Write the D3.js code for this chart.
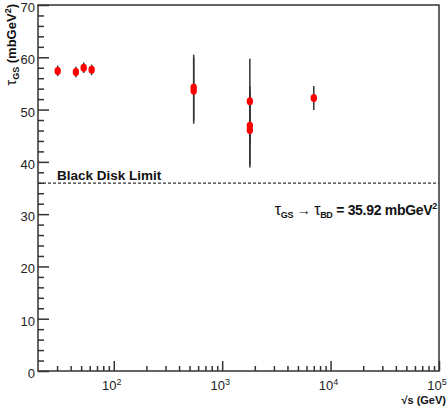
<!DOCTYPE html>
<html>
<head>
<meta charset="utf-8">
<script src="https://cdn.jsdelivr.net/npm/d3@7"></script>
<style>
  body { margin: 0; background: #fff; }
  text { font-family: "Liberation Sans", Arial, sans-serif; }
</style>
</head>
<body>
<div id="chart"></div>
<script>
// sqrt(s) in GeV, tau_GS in mb GeV^2, symmetric error
const energies = [30.4, 44.7, 52.8, 62.5, 546, 546, 1800, 1800, 1800, 7000];
const tauGS    = [57.4, 57.2, 58.0, 57.6, 54.2, 53.6, 51.6, 46.9, 46.1, 52.2];
const tauErr   = [1.0, 1.0, 1.0, 1.0, 6.3, 6.3, 8.1, 7.5, 7.2, 2.3];
const yMajor = [0, 10, 20, 30, 40, 50, 60, 70];
const xDecades = [2, 3, 4, 5];
const blackDisk = 35.92;

const width = 447, height = 409;
const svg = d3.select('#chart').append('svg')
    .attr('width', width)
    .attr('height', height);

const x = d3.scaleLog().domain([20, 1e5]).range([38, 439]);
const y = d3.scaleLinear().domain([0, 70]).range([371, 5]);
const axisColor = '#333';

// minor y ticks every 2
const yMinor = d3.range(0, 70.1, 2).filter(v => v % 10 !== 0);
svg.append('g')
    .attr('transform', `translate(${x.range()[0]},0)`)
    .call(d3.axisLeft(y).tickValues(yMinor).tickSize(-6).tickFormat(''))
    .call(g => g.select('.domain').remove())
    .selectAll('line').attr('stroke', axisColor).attr('stroke-width', 1.5);

svg.append('g')
    .attr('transform', `translate(${x.range()[0]},0)`)
    .call(d3.axisLeft(y).tickValues(yMajor).tickSize(-11).tickPadding(3).tickFormat(d3.format('d')))
    .call(g => g.select('.domain').remove())
    .call(g => g.selectAll('line').attr('stroke', axisColor).attr('stroke-width', 1.5))
    .call(g => g.selectAll('text').attr('font-size', 13).attr('fill', '#222')
        .attr('dy', '0.5em'));

// x minor ticks 2..9 per decade
const xMinor = [];
[1, 2, 3, 4].forEach(d => {
  for (let k = 2; k <= 9; k++) {
    const v = k * Math.pow(10, d);
    if (v > 20 && v < 1e5) xMinor.push(v);
  }
});
svg.append('g')
    .attr('transform', `translate(0,${y.range()[0]})`)
    .call(d3.axisBottom(x).tickValues(xMinor).tickSize(-5).tickFormat(''))
    .call(g => g.select('.domain').remove())
    .selectAll('line').attr('stroke', axisColor).attr('stroke-width', 1.5);

const xMajorVals = xDecades.map(d => Math.pow(10, d));
svg.append('g')
    .attr('transform', `translate(0,${y.range()[0]})`)
    .call(d3.axisBottom(x).tickValues(xMajorVals).tickSize(-10).tickFormat(''))
    .call(g => g.select('.domain').remove())
    .selectAll('line').attr('stroke', axisColor).attr('stroke-width', 1.5);

// x tick labels 10^n
const xl = svg.append('g').selectAll('text')
    .data(xDecades)
    .enter().append('text')
    .attr('x', d => x(Math.pow(10, d)) - 2)
    .attr('y', 390)
    .attr('text-anchor', 'middle')
    .attr('font-size', 13)
    .attr('fill', '#222');
xl.append('tspan').text('10');
xl.append('tspan').attr('dy', -5).attr('font-size', 9).text(d => d);

// frame
svg.append('rect')
    .attr('x', x.range()[0]).attr('y', y.range()[1])
    .attr('width', x.range()[1] - x.range()[0])
    .attr('height', y.range()[0] - y.range()[1])
    .attr('fill', 'none')
    .attr('stroke', axisColor)
    .attr('stroke-width', 1.5);

// black disk limit
svg.append('line')
    .attr('x1', x.range()[0]).attr('x2', x.range()[1])
    .attr('y1', y(blackDisk)).attr('y2', y(blackDisk))
    .attr('stroke', '#333')
    .attr('stroke-width', 1.2)
    .attr('stroke-dasharray', '3,2');

svg.append('text')
    .attr('x', 57).attr('y', 180)
    .attr('font-size', 13.5)
    .attr('font-weight', 'bold')
    .attr('fill', '#111')
    .text('Black Disk Limit');

const f = svg.append('text')
    .attr('x', 437).attr('y', 215)
    .attr('text-anchor', 'end')
    .attr('font-size', 14)
    .attr('font-weight', 'bold')
    .attr('fill', '#111')
    .attr('letter-spacing', -0.3);
f.append('tspan').attr('font-weight', 'normal').attr('font-size', 16).text('τ');
f.append('tspan').attr('font-size', 9).attr('dy', 3).text('GS');
f.append('tspan').attr('dy', -3).attr('font-weight', 'normal').text(' → ');
f.append('tspan').attr('font-weight', 'normal').attr('font-size', 16).text('τ');
f.append('tspan').attr('font-size', 9).attr('dy', 3).text('BD');
f.append('tspan').attr('dy', -3).text(' = 35.92 mbGeV');
f.append('tspan').attr('dy', -6).attr('font-size', 9).text('2');

// axis titles
const yt = svg.append('text')
    .attr('transform', 'translate(16,4) rotate(-90)')
    .attr('text-anchor', 'end')
    .attr('font-size', 13)
    .attr('font-weight', 'bold')
    .attr('fill', '#111');
yt.append('tspan').attr('font-weight', 'normal').attr('font-size', 15).text('τ');
yt.append('tspan').attr('font-size', 9).attr('dy', 3).text('GS');
yt.append('tspan').attr('dy', -3).text(' (mbGeV');
yt.append('tspan').attr('dy', -5).attr('font-size', 9).text('2');
yt.append('tspan').attr('dy', 5).text(')');

svg.append('text')
    .attr('x', 446).attr('y', 404)
    .attr('text-anchor', 'end')
    .attr('font-size', 11)
    .attr('font-weight', 'bold')
    .attr('fill', '#111')
    .text('√s (GeV)');

// data
const pts = energies.map((e, i) => ({ e, t: tauGS[i], err: tauErr[i] }));

svg.append('g').selectAll('line')
    .data(pts)
    .enter().append('line')
    .attr('x1', d => x(d.e)).attr('x2', d => x(d.e))
    .attr('y1', d => y(d.t - d.err)).attr('y2', d => y(d.t + d.err))
    .attr('stroke', '#333')
    .attr('stroke-width', 1.5);

svg.append('g').selectAll('ellipse')
    .data(pts)
    .enter().append('ellipse')
    .attr('cx', d => x(d.e))
    .attr('cy', d => y(d.t))
    .attr('rx', 3.2)
    .attr('ry', 4)
    .attr('fill', '#f00');
</script>
</body>
</html>
